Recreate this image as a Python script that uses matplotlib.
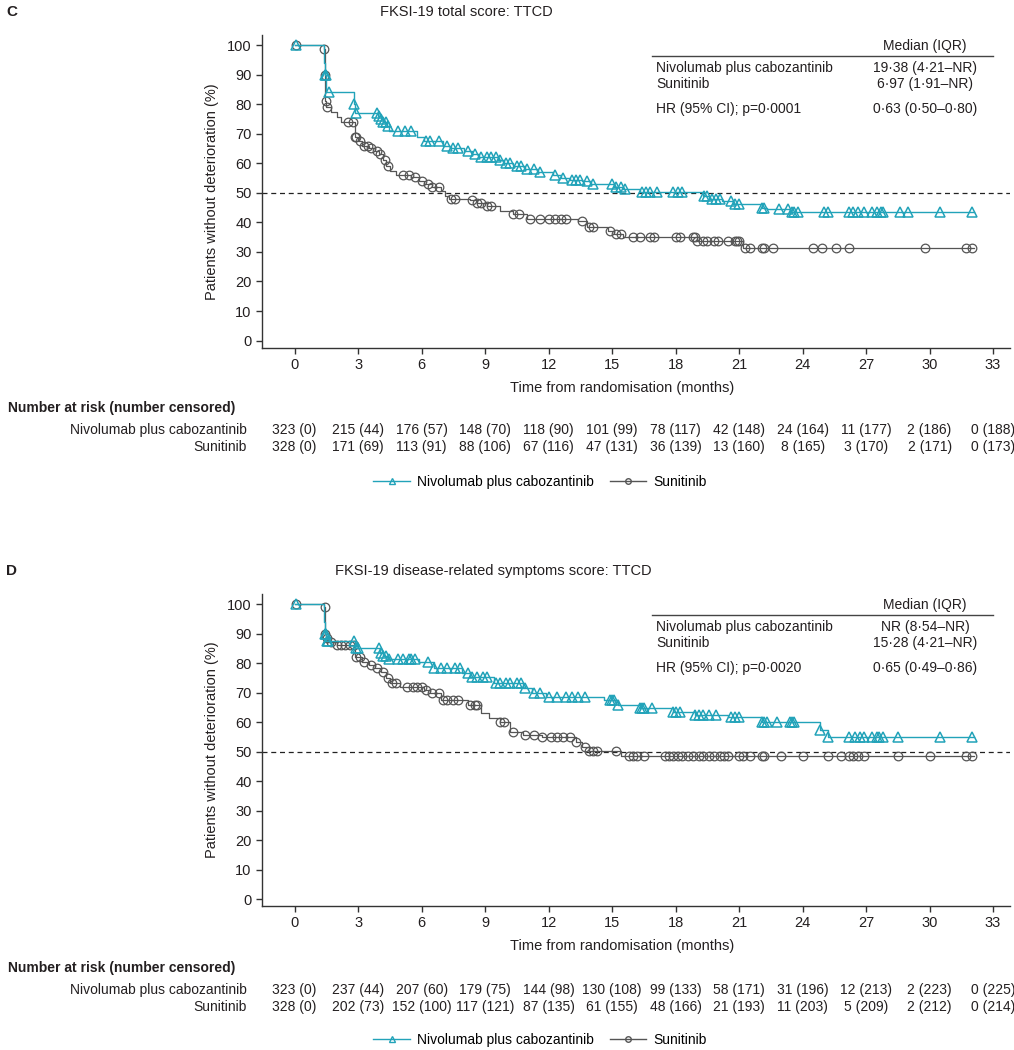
import numpy as np
import matplotlib
matplotlib.use("Agg")
import matplotlib.pyplot as plt
from matplotlib import transforms
from matplotlib.lines import Line2D

plt.rcParams['font.family'] = ['Liberation Sans', 'DejaVu Sans']
plt.rcParams['font.size'] = 10

TEAL = '#22A3B9'
GREY = '#555555'
TXT = '#231F20'

# ---------------- Panel C data ----------------
c_nivo_t = [0, 1.40, 1.45, 1.50, 2.80, 2.85, 3.95, 4.10, 4.20, 4.35, 4.45, 5.80, 6.10, 7.00, 7.40,
            8.00, 8.40, 8.70, 9.60, 9.90, 10.30, 10.90, 11.50, 12.20, 12.60, 13.00, 13.60, 14.00,
            15.10, 15.50, 16.30, 19.30, 19.60, 20.20, 20.70, 22.10, 22.30, 23.40, 32.1]
c_nivo_s = [100, 94, 90, 84, 80, 77, 76, 75, 74, 72.5, 71, 69, 67.5, 66, 65,
            64, 63, 62, 61, 60, 59, 58, 57, 56, 55, 54.5, 54, 53,
            52, 51.3, 50.3, 49, 48, 47.3, 46.3, 45, 44.5, 43.5, 43.5]
c_nivo_cens = [0.05, 1.45, 1.47, 1.62, 2.82, 2.9, 3.9, 4.0, 4.1, 4.2, 4.3, 4.4, 4.9, 5.2, 5.5, 6.2,
               6.4, 6.8, 7.2, 7.5, 7.7, 8.2, 8.5, 8.8, 9.1, 9.3, 9.5, 9.7, 10.0, 10.2, 10.5, 10.7,
               11.0, 11.3, 11.6, 12.3, 12.7, 13.1, 13.3, 13.5, 13.8, 14.1, 15.0, 15.2, 15.4, 15.6,
               16.4, 16.6, 16.8, 17.1, 17.9, 18.1, 18.3, 19.35, 19.5, 19.7, 19.9, 20.1, 20.6, 20.8,
               21.0, 22.1, 22.2, 22.9, 23.3, 23.5, 23.6, 23.8, 25.0, 25.2, 26.2, 26.4, 26.6, 26.9,
               27.3, 27.5, 27.7, 27.8, 28.6, 29.0, 30.5, 32.0]
c_suni_t = [0, 1.38, 1.42, 1.45, 1.50, 1.70, 2.00, 2.20, 2.85, 3.00, 3.20, 3.50, 3.80, 4.00, 4.20,
            4.30, 4.50, 4.80, 5.50, 5.90, 6.10, 6.50, 6.90, 7.10, 7.30, 8.30, 8.60, 9.10, 9.70,
            10.30, 11.00, 13.40, 13.80, 14.80, 15.10, 15.50, 19.00, 21.20, 32.1]
c_suni_s = [100, 98.5, 90, 81, 79, 77.5, 75.5, 74, 69, 67.5, 66, 65.3, 64, 63.3, 61,
            59, 57.5, 56, 55.3, 54, 53, 52, 50.5, 49, 48, 47.5, 46.5, 45.5, 44,
            43, 41.3, 40.3, 38.3, 37, 36, 35, 33.8, 31.3, 31.3]
c_suni_cens = [0.05, 1.4, 1.43, 1.47, 1.55, 2.5, 2.75, 2.85, 2.9, 3.1, 3.3, 3.45, 3.6, 3.9, 4.05,
               4.25, 4.4, 5.1, 5.4, 5.7, 6.0, 6.3, 6.5, 6.8, 7.4, 7.6, 8.4, 8.6, 8.8, 9.1, 9.3,
               10.3, 10.6, 11.1, 11.6, 12.0, 12.3, 12.6, 12.8, 13.6, 13.9, 14.1, 14.9, 15.2, 15.4,
               16.0, 16.3, 16.8, 17.0, 18.0, 18.2, 18.8, 18.9, 19.0, 19.3, 19.5, 19.8, 20.0, 20.5,
               20.8, 20.9, 21.0, 21.3, 21.5, 22.1, 22.2, 22.6, 24.5, 24.9, 25.6, 26.2, 29.8, 31.7, 32.0]

# ---------------- Panel D data ----------------
d_nivo_t = [0, 1.40, 1.45, 1.50, 2.85, 4.05, 4.20, 4.40, 5.90, 6.60, 7.90, 8.30, 9.40, 10.80,
            11.20, 11.90, 14.60, 15.30, 16.30, 17.90, 18.90, 20.50, 22.10, 24.80, 25.20, 32.1]
d_nivo_s = [100, 94, 90, 87.5, 85, 83.5, 82.5, 81.5, 80.5, 78.2, 76.5, 75.2, 73.1, 71.4,
            69.8, 68.5, 67.5, 65.8, 64.8, 63.5, 62.4, 61.6, 60.2, 57.3, 54.8, 54.8]
d_nivo_cens = [0.05, 1.45, 1.47, 1.55, 1.6, 2.8, 2.9, 3.0, 4.0, 4.1, 4.2, 4.3, 4.45, 4.9, 5.1,
               5.4, 5.5, 5.7, 6.3, 6.6, 6.9, 7.2, 7.6, 7.8, 8.2, 8.4, 8.6, 8.9, 9.1, 9.5, 9.7,
               10.0, 10.2, 10.5, 10.7, 10.9, 11.3, 11.6, 12.0, 12.4, 12.8, 13.1, 13.4, 13.7,
               14.9, 15.0, 15.1, 15.3, 16.3, 16.4, 16.5, 16.9, 17.9, 18.0, 18.2, 18.9, 19.1,
               19.3, 19.6, 19.9, 20.6, 20.8, 21.0, 22.1, 22.2, 22.3, 22.8, 23.4, 23.5, 23.6,
               24.8, 25.2, 26.2, 26.5, 26.7, 26.9, 27.3, 27.5, 27.6, 27.8, 28.5, 30.5, 32.0]
d_suni_t = [0, 1.40, 1.43, 1.46, 1.50, 1.60, 2.00, 2.85, 3.20, 3.50, 3.80, 4.10, 4.30, 4.50,
            5.00, 6.10, 6.40, 6.90, 8.20, 8.80, 9.20, 9.70, 10.20, 10.80, 11.70, 13.30, 13.60,
            13.90, 15.40, 32.1]
d_suni_s = [100, 99, 94, 90, 88.5, 87, 86, 82, 80.5, 79.3, 78.2, 77.1, 74.8, 73.1,
            72, 70.9, 69.8, 67.5, 65.8, 63, 61.5, 60.1, 56.7, 55.6, 55, 53.4, 51.7,
            50.2, 48.6, 48.6]
d_suni_cens = [0.05, 1.42, 1.46, 1.55, 1.7, 2.0, 2.2, 2.4, 2.6, 2.8, 2.9, 3.1, 3.3, 3.6, 3.9,
               4.2, 4.4, 4.6, 4.8, 5.3, 5.6, 5.8, 6.0, 6.2, 6.5, 6.8, 7.0, 7.2, 7.5, 7.7, 8.3,
               8.5, 8.6, 9.7, 9.9, 10.3, 10.9, 11.3, 11.7, 12.1, 12.4, 12.7, 13.0, 13.3, 13.7,
               13.9, 14.1, 14.3, 15.2, 15.8, 16.0, 16.2, 16.5, 17.5, 17.7, 17.9, 18.1, 18.3,
               18.6, 18.8, 19.1, 19.3, 19.6, 19.8, 20.1, 20.3, 20.5, 21.0, 21.2, 21.5, 22.1,
               22.2, 23.0, 24.0, 25.2, 25.8, 26.2, 26.4, 26.6, 26.9, 28.5, 30.0, 31.7, 32.0]

# ---------------- Risk tables ----------------
risk_times = [0, 3, 6, 9, 12, 15, 18, 21, 24, 27, 30, 33]
c_risk_nivo = ['323 (0)', '215 (44)', '176 (57)', '148 (70)', '118 (90)', '101 (99)', '78 (117)',
               '42 (148)', '24 (164)', '11 (177)', '2 (186)', '0 (188)']
c_risk_suni = ['328 (0)', '171 (69)', '113 (91)', '88 (106)', '67 (116)', '47 (131)', '36 (139)',
               '13 (160)', '8 (165)', '3 (170)', '2 (171)', '0 (173)']
d_risk_nivo = ['323 (0)', '237 (44)', '207 (60)', '179 (75)', '144 (98)', '130 (108)', '99 (133)',
               '58 (171)', '31 (196)', '12 (213)', '2 (223)', '0 (225)']
d_risk_suni = ['328 (0)', '202 (73)', '152 (100)', '117 (121)', '87 (135)', '61 (155)', '48 (166)',
               '21 (193)', '11 (203)', '5 (209)', '2 (212)', '0 (214)']

c_median = [('Nivolumab plus cabozantinib', '19·38 (4·21–NR)'), ('Sunitinib', '6·97 (1·91–NR)'),
            ('HR (95% CI); p=0·0001', '0·63 (0·50–0·80)')]
d_median = [('Nivolumab plus cabozantinib', 'NR (8·54–NR)'), ('Sunitinib', '15·28 (4·21–NR)'),
            ('HR (95% CI); p=0·0020', '0·65 (0·49–0·86)')]

W, H = 1014, 1050
fig = plt.figure(figsize=(W / 100, H / 100), dpi=100)


def fx(px):
    return px / W


def fy(py):
    return 1 - py / H


def step_value(ts, ss, t):
    idx = np.searchsorted(np.asarray(ts), t, side='right') - 1
    return np.asarray(ss)[np.clip(idx, 0, len(ss) - 1)]


def panel(top_px, bot_px, ymin, ymax, letter, title, title_x, nt, ns, nc, st, ss, sc,
          median, risk_n, risk_s, risk_y, leg_y):
    ax = fig.add_axes([fx(262), fy(bot_px), fx(1010) - fx(262), fy(top_px) - fy(bot_px)])
    ax.set_xlim(-1.54, 33.8)
    ax.set_ylim(ymin, ymax)
    for side in ('top', 'right'):
        ax.spines[side].set_visible(False)
    for side in ('left', 'bottom'):
        ax.spines[side].set_color('#333333')
        ax.spines[side].set_linewidth(1.0)
    ax.set_xticks(risk_times)
    ax.set_yticks(range(0, 101, 10))
    ax.tick_params(colors='#333333', labelcolor=TXT, labelsize=10.5, length=4, width=1)
    ax.axhline(50, color='#222222', lw=0.9, ls=(0, (4, 3)))
    ax.set_ylabel('Patients without deterioration (%)', fontsize=10.5, color=TXT, labelpad=6)

    # Sunitinib
    ax.step(st, ss, where='post', color=GREY, lw=0.9, zorder=3)
    ax.plot(sc, step_value(st, ss, sc), ls='none', marker='o', ms=6.2, mfc='none',
            mec=GREY, mew=0.9, zorder=3)
    # Nivolumab
    ax.step(nt, ns, where='post', color=TEAL, lw=1.0, zorder=4)
    ax.plot(nc, step_value(nt, ns, nc), ls='none', marker='^', ms=6.5, mfc='none',
            mec=TEAL, mew=1.1, zorder=4)

    # median table
    ax_top = top_px
    fig.add_artist(Line2D([fx(652), fx(993)], [fy(ax_top + 21)] * 2, color='#444444', lw=1.0))
    fig.text(fx(925), fy(ax_top + 11), 'Median (IQR)', ha='center', va='center', fontsize=10, color=TXT)
    ys = [ax_top + 33, ax_top + 49, ax_top + 74]
    for (lab, val), yy in zip(median, ys):
        fig.text(fx(656), fy(yy), lab, ha='left', va='center', fontsize=10, color=TXT)
        fig.text(fx(925), fy(yy), val, ha='center', va='center', fontsize=10, color=TXT)

    # letter and title
    fig.text(fx(6), fy(top_px - 23), letter, ha='left', va='center', fontsize=11,
             fontweight='bold', color=TXT)
    fig.text(fx(title_x), fy(top_px - 23), title, ha='center', va='center', fontsize=10.5, color=TXT)
    fig.text(fx(622), fy(bot_px + 40), 'Time from randomisation (months)', ha='center',
             va='center', fontsize=10.5, color=TXT)

    # risk table
    fig.text(fx(8), fy(risk_y), 'Number at risk (number censored)', ha='left', va='center',
             fontsize=10, fontweight='bold', color=TXT)
    trans = transforms.blended_transform_factory(ax.transData, fig.transFigure)
    for row, lab, yy in ((risk_n, 'Nivolumab plus cabozantinib', risk_y + 22),
                         (risk_s, 'Sunitinib', risk_y + 39)):
        fig.text(fx(247), fy(yy), lab, ha='right', va='center', fontsize=10, color=TXT)
        for tt, txt in zip(risk_times, row):
            fig.text(tt, fy(yy), txt, transform=trans, ha='center', va='center',
                     fontsize=10, color=TXT)

    # legend
    h1 = Line2D([], [], color=TEAL, lw=1.0, marker='^', ms=4, mfc='none', mec=TEAL)
    h2 = Line2D([], [], color=GREY, lw=1.0, marker='o', ms=4, mfc='none', mec=GREY)
    fig.legend([h1, h2], ['Nivolumab plus cabozantinib', 'Sunitinib'], loc='center',
               bbox_to_anchor=(fx(540), fy(leg_y)), ncol=2, frameon=False, fontsize=10,
               handlelength=2.6, columnspacing=1.2, handletextpad=0.5)
    return ax


panel(35, 347.7, -2.4, 103.4, 'C', 'FKSI-19 total score: TTCD', 466,
      c_nivo_t, c_nivo_s, c_nivo_cens, c_suni_t, c_suni_s, c_suni_cens,
      c_median, c_risk_nivo, c_risk_suni, 408, 482)
panel(594, 906, -2.27, 103.4, 'D', 'FKSI-19 disease-related symptoms score: TTCD', 493,
      d_nivo_t, d_nivo_s, d_nivo_cens, d_suni_t, d_suni_s, d_suni_cens,
      d_median, d_risk_nivo, d_risk_suni, 968, 1040)

fig.savefig('out.png', dpi=100)
